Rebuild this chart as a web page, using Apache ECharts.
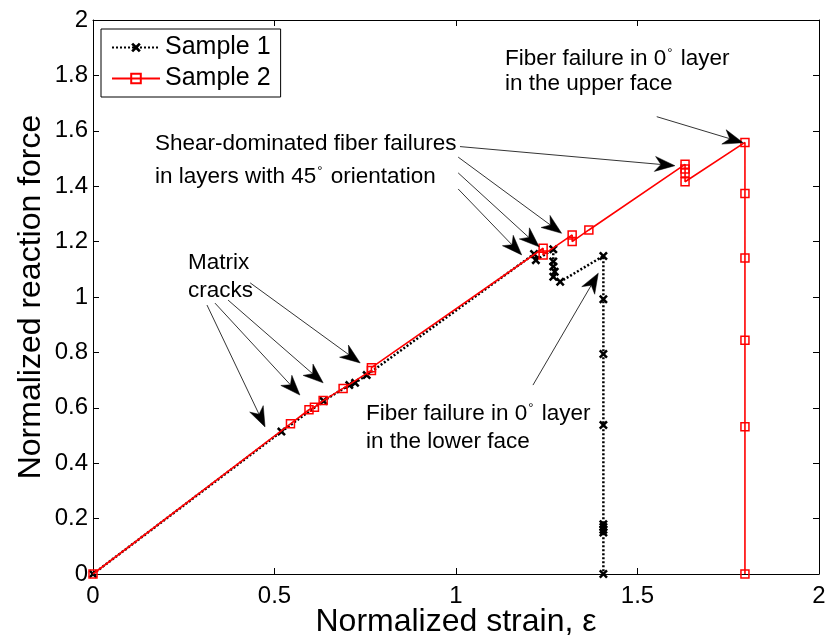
<!DOCTYPE html>
<html>
<head>
<meta charset="utf-8">
<script src="https://cdn.jsdelivr.net/npm/echarts@6/dist/echarts.min.js"></script>
<style>
html,body{margin:0;padding:0;background:#fff;}
#chart{width:826px;height:641px;}
</style>
</head>
<body>
<div id="chart"></div>
<script>
// ---- data ----
const sample1 = [
  [0,0],[0.519,0.514],[0.635,0.625],[0.706,0.682],[0.722,0.690],[0.754,0.718],
  [1.215,1.155],[1.220,1.133],[1.268,1.172],[1.268,1.128],[1.268,1.110],[1.272,1.091],
  [1.268,1.073],[1.287,1.055],[1.406,1.148],[1.406,0.992],[1.406,0.794],[1.406,0.538],
  [1.406,0.18],[1.406,0.17],[1.406,0.16],[1.406,0.15],[1.406,0]
];
const sample2 = [
  [0,0],[0.544,0.542],[0.595,0.593],[0.610,0.602],[0.634,0.626],[0.689,0.670],
  [0.767,0.735],[0.767,0.745],[1.240,1.176],[1.240,1.152],[1.320,1.224],[1.320,1.200],
  [1.366,1.242],[1.631,1.479],[1.631,1.462],[1.631,1.448],[1.631,1.416],
  [1.796,1.558],[1.796,1.374],[1.796,1.141],[1.796,0.844],[1.796,0.532],[1.796,0]
];
const seriesNames = ['Sample 1','Sample 2'];
const xTickStep = 0.5;
const yTickStep = 0.2;
// annotation arrows: [startX, startY, tipX, tipY] in data units
const arrows = [
  [0.314,0.971,0.474,0.531],
  [0.336,0.978,0.570,0.646],
  [0.372,0.989,0.634,0.690],
  [0.433,1.051,0.736,0.762],
  [1.011,1.543,1.603,1.474],
  [1.006,1.505,1.291,1.230],
  [1.006,1.448,1.229,1.181],
  [1.006,1.390,1.181,1.152],
  [1.553,1.651,1.791,1.557],
  [1.212,0.682,1.392,1.086]
];
const annoTexts = [
  {t:'Matrix', x:188, y:251},
  {t:'cracks', x:188, y:279},
  {t:'Shear-dominated fiber failures', x:155, y:132},
  {t:'in layers with 45{d|°} orientation', x:155, y:165},
  {t:'Fiber failure in 0{d|°} layer', x:505, y:47},
  {t:'in the upper face', x:505, y:72},
  {t:'Fiber failure in 0{d|°} layer', x:366, y:402},
  {t:'in the lower face', x:366, y:430}
];

const FONT = '"Liberation Sans", Arial, Helvetica, sans-serif';
const fmt = v => String(+(+v).toFixed(1));
const crossPath = 'path://M2,0L5,3L8,0L10,2L7,5L10,8L8,10L5,7L2,10L0,8L3,5L0,2Z';

const chart = echarts.init(document.getElementById('chart'), null, {renderer:'canvas'});
const axisCommon = {
  axisLine:{show:true, onZero:false, lineStyle:{color:'#000', width:1}},
  axisTick:{show:true, inside:true, length:6, lineStyle:{color:'#000'}},
  splitLine:{show:false}
};
chart.setOption({
  animation:false,
  backgroundColor:'#fff',
  textStyle:{fontFamily:FONT},
  grid:{left:93, top:20, right:7, bottom:67, containLabel:false, outerBoundsMode:'none'},
  xAxis:[
    Object.assign({type:'value', min:0, max:2, interval:xTickStep, position:'bottom',
      name:'Normalized strain, ε', nameLocation:'middle', nameGap:32, nameMoveOverlap:false,
      nameTextStyle:{fontSize:32, color:'#000', fontFamily:FONT},
      axisLabel:{formatter:fmt, fontSize:24, color:'#000', margin:10, fontFamily:FONT}}, axisCommon),
    Object.assign({type:'value', min:0, max:2, interval:xTickStep, position:'top', axisLabel:{show:false}}, axisCommon)
  ],
  yAxis:[
    Object.assign({type:'value', min:0, max:2, interval:yTickStep, position:'left',
      name:'Normalized reaction force', nameLocation:'middle', nameGap:46, nameMoveOverlap:false,
      nameTextStyle:{fontSize:32, color:'#000', fontFamily:FONT},
      axisLabel:{formatter:fmt, fontSize:24, color:'#000', margin:5, fontFamily:FONT}}, axisCommon),
    Object.assign({type:'value', min:0, max:2, interval:yTickStep, position:'right', axisLabel:{show:false}}, axisCommon)
  ],
  legend:{
    left:101, top:29, orient:'vertical',
    backgroundColor:'#fff', borderColor:'#000', borderWidth:1,
    padding:[6,10,6,10], itemGap:6, itemWidth:48, itemHeight:12,
    textStyle:{fontSize:25, color:'#000', fontFamily:FONT},
    data:seriesNames
  },
  series:[
    {
      name:seriesNames[0], type:'line', data:sample1, z:2,
      symbol:crossPath, symbolSize:9, showSymbol:true,
      lineStyle:{color:'#000', width:2.5, type:[2,2]},
      itemStyle:{color:'#000', borderColor:'#000', borderWidth:0}
    },
    {
      name:seriesNames[1], type:'line', data:sample2, z:3,
      symbol:'rect', symbolSize:8, showSymbol:true,
      lineStyle:{color:'#ff0000', width:1.6},
      itemStyle:{color:'rgba(255,255,255,0)', borderColor:'#ff0000', borderWidth:1.5}
    }
  ]
});

// annotations: text + arrows (arrows positioned via the chart's own coordinate conversion)
function buildGraphics(){
  const els = [];
  annoTexts.forEach(a => els.push({
    type:'text', left:a.x, top:a.y, z:100,
    style:{text:a.t, fill:'#000', font:'22.5px ' + FONT,
      rich:{d:{fontSize:13, verticalAlign:'top', padding:[0,2,10,1], fill:'#000', fontFamily:FONT}}}
  }));
  arrows.forEach(a => {
    const p0 = chart.convertToPixel({gridIndex:0}, [a[0],a[1]]);
    const p1 = chart.convertToPixel({gridIndex:0}, [a[2],a[3]]);
    const dx = p1[0]-p0[0], dy = p1[1]-p0[1];
    const L = Math.sqrt(dx*dx+dy*dy);
    const ux = dx/L, uy = dy/L, nx = -uy, ny = ux;
    const hl = 20, hw = 7.5, notch = 6;
    const bx = p1[0]-ux*hl, by = p1[1]-uy*hl;
    const nxp = p1[0]-ux*(hl-notch), nyp = p1[1]-uy*(hl-notch);
    els.push({type:'line', z:90, shape:{x1:p0[0], y1:p0[1], x2:nxp, y2:nyp},
      style:{stroke:'#000', lineWidth:0.8}});
    els.push({type:'polygon', z:91, shape:{points:[
      [p1[0],p1[1]], [bx+nx*hw, by+ny*hw], [nxp,nyp], [bx-nx*hw, by-ny*hw]
    ]}, style:{fill:'#000', stroke:'#000', lineWidth:0.5}});
  });
  return els;
}
chart.setOption({graphic: buildGraphics()});
</script>
</body>
</html>
